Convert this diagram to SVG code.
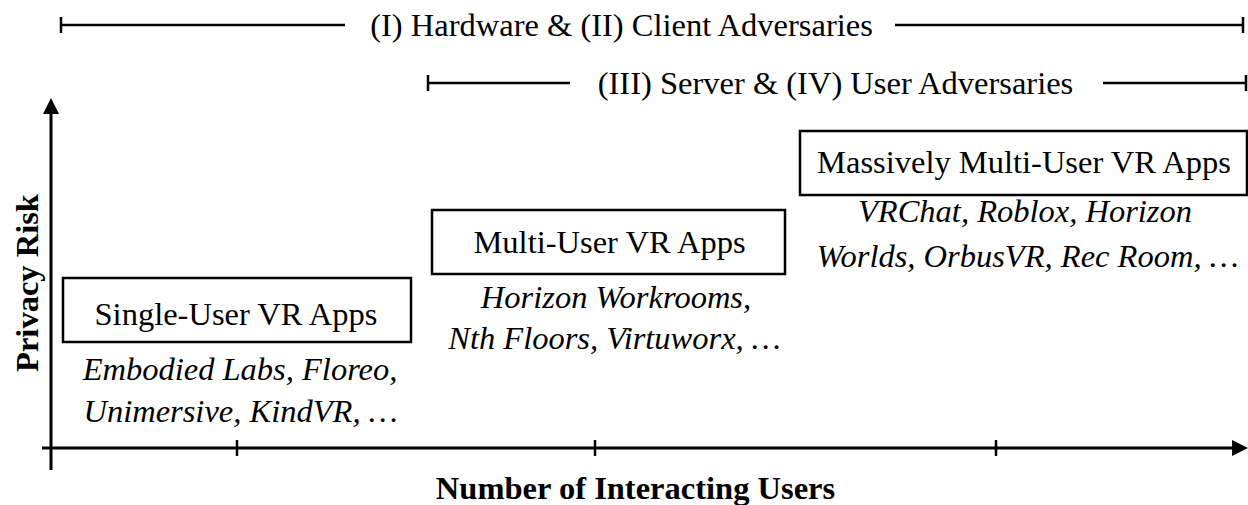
<svg xmlns="http://www.w3.org/2000/svg" width="1248" height="505" viewBox="0 0 1248 505">
<style>
text{font-family:"Liberation Serif","Times New Roman",serif;font-size:32.5px;fill:#000}
.it{font-style:italic}
.b{font-weight:bold}
.box{fill:#fff;stroke:#000;stroke-width:2.5}
.ln{stroke:#000;stroke-width:2.5;fill:none}
.ax{stroke:#000;stroke-width:3;fill:none}
</style>
<rect width="1248" height="505" fill="#fff"/>
<g id="connectors">
<g id="range1">
<line class="ln" x1="61" y1="25" x2="345" y2="25"/>
<line class="ln" x1="61" y1="17" x2="61" y2="33"/>
<line class="ln" x1="895" y1="25" x2="1243" y2="25"/>
<line class="ln" x1="1243" y1="17" x2="1243" y2="33"/>
</g>
<g id="range2">
<line class="ln" x1="428" y1="83" x2="570" y2="83"/>
<line class="ln" x1="428" y1="75" x2="428" y2="91"/>
<line class="ln" x1="1103" y1="83" x2="1246" y2="83"/>
<line class="ln" x1="1246" y1="75" x2="1246" y2="91"/>
</g>
<g id="axes">
<line class="ax" x1="51" y1="470" x2="51" y2="110"/>
<polygon points="51,98 43,114 59,114" fill="#000"/>
<line class="ax" x1="42" y1="448" x2="1236" y2="448"/>
<polygon points="1248,448 1232,440 1232,456" fill="#000"/>
<line class="ln" x1="237" y1="440" x2="237" y2="456"/>
<line class="ln" x1="595" y1="440" x2="595" y2="456"/>
<line class="ln" x1="996" y1="440" x2="996" y2="456"/>
</g>
</g>
<g id="labels">
<text x="621.5" y="36" text-anchor="middle">(I) Hardware &amp; (II) Client Adversaries</text>
<text x="835.5" y="94" text-anchor="middle">(III) Server &amp; (IV) User Adversaries</text>
<text class="b" x="635.5" y="499" text-anchor="middle">Number of Interacting Users</text>
<text class="b" transform="translate(38,283) rotate(-90)" text-anchor="middle">Privacy Risk</text>
</g>
<g id="single">
<rect class="box" x="63" y="278" width="348" height="64"/>
<text x="236" y="325" text-anchor="middle">Single-User VR Apps</text>
<text class="it" x="240" y="380" text-anchor="middle">Embodied Labs, Floreo,</text>
<text class="it" x="240.5" y="422" text-anchor="middle">Unimersive, KindVR, …</text>
</g>
<g id="multi">
<rect class="box" x="432" y="210" width="353" height="64"/>
<text x="609.5" y="253" text-anchor="middle">Multi-User VR Apps</text>
<text class="it" x="616" y="308" text-anchor="middle">Horizon Workrooms,</text>
<text class="it" x="614.5" y="349" text-anchor="middle">Nth Floors, Virtuworx, …</text>
</g>
<g id="massive">
<rect class="box" x="800" y="131" width="447" height="64"/>
<text x="1024" y="173" text-anchor="middle">Massively Multi-User VR Apps</text>
<text class="it" x="1025" y="222" text-anchor="middle">VRChat, Roblox, Horizon</text>
<text class="it" x="1027.5" y="267" text-anchor="middle">Worlds, OrbusVR, Rec Room, …</text>
</g>
</svg>
